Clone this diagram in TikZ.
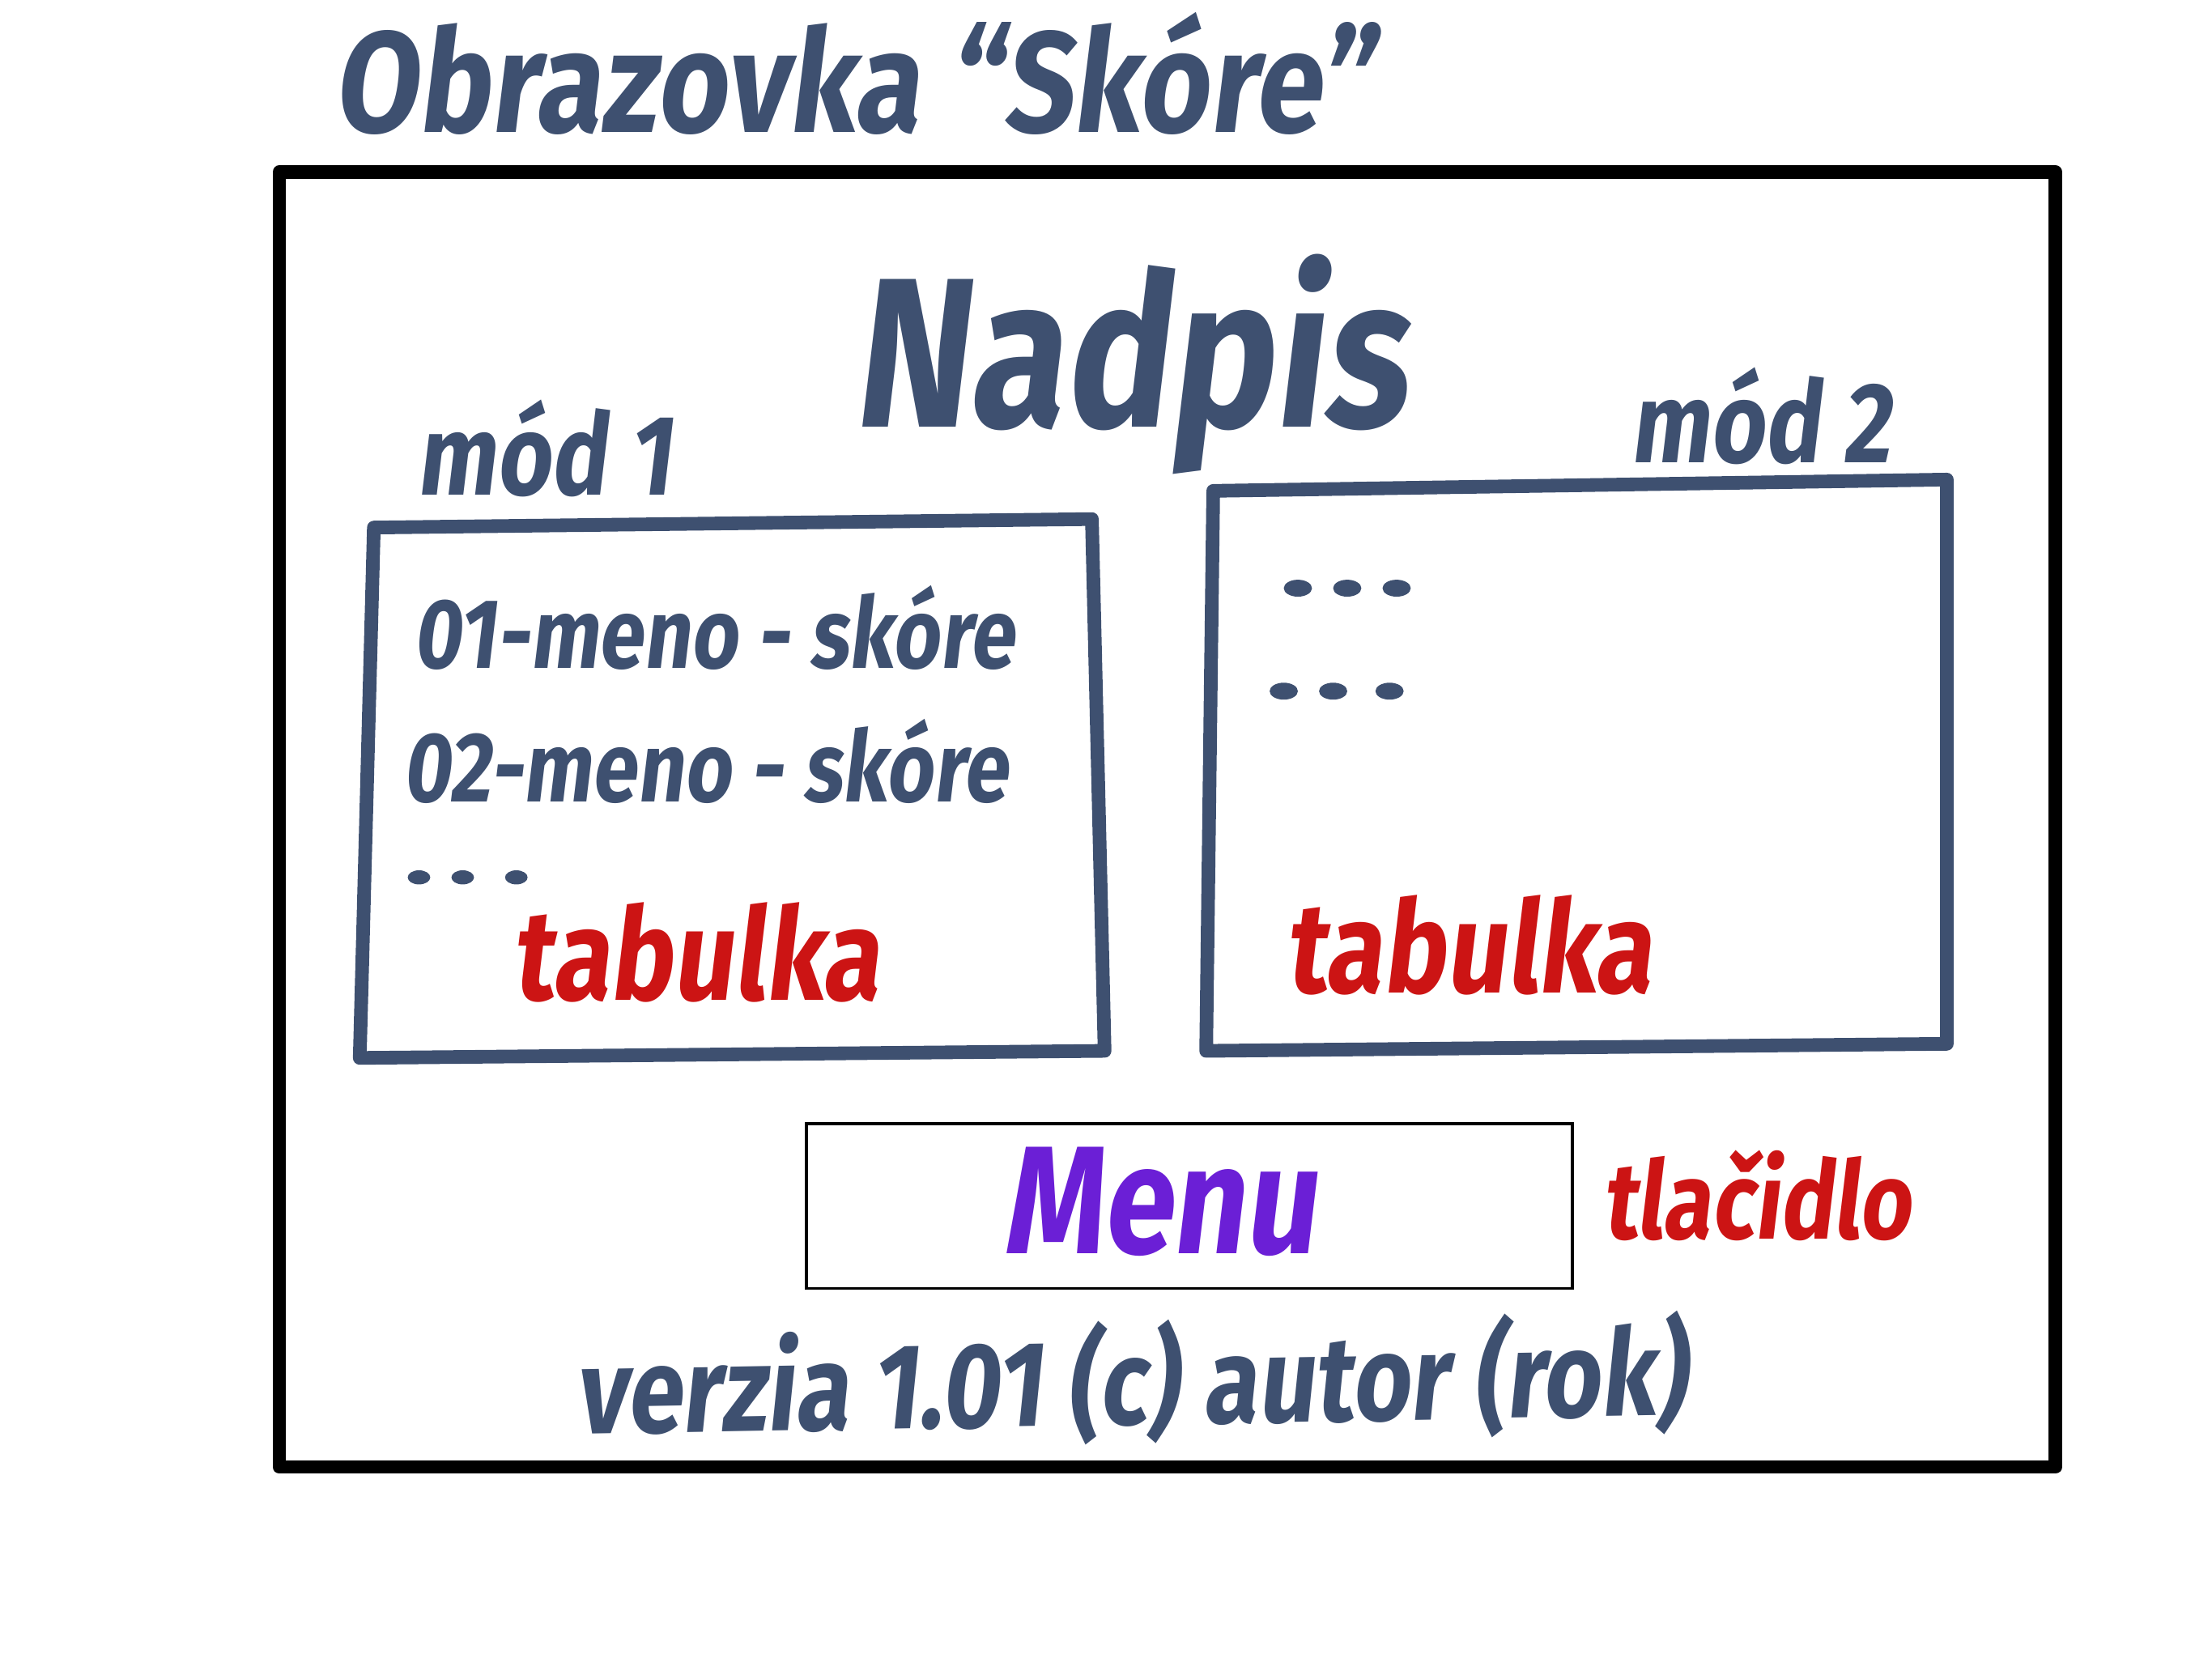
\documentclass[tikz,border=0pt]{standalone}
\usepackage{fontspec}
\setmainfont{Fira Sans}
\newfontfamily\hand[FakeSlant=0.12,FakeStretch=0.82]{Fira Sans}
\usetikzlibrary{positioning}
\definecolor{ink}{HTML}{3E5070}
\definecolor{redink}{HTML}{CC1414}
\definecolor{btnink}{HTML}{6B1FD6}
\newcommand{\sz}[1]{\fontsize{#1pt}{#1pt}\selectfont}

\begin{document}
\begin{tikzpicture}[
    x=0.02cm, y=-0.02cm,
    frame/.style={draw=black,line width=5.5pt,line join=round},
    panel/.style={draw=ink,line width=5.5pt,line join=round},
    button/.style={draw=black,line width=1.2pt,minimum width=10.86cm,minimum height=2.34cm,inner sep=0pt},
    lbl/.style={text=ink,inner sep=0pt,font=\hand\bfseries},
    redlbl/.style={text=redink,inner sep=0pt,font=\hand\bfseries},
    dot/.style={fill=ink,draw=none}
  ]
  \useasboundingbox (0,0) rectangle (1568,1175);

  % title and screen frame
  \node[lbl,font=\hand\bfseries\sz{58},xscale=1.03] (tTitle) at (605,52) {Obrazovka “Skóre”};
  \draw[frame] (198,122) rectangle (1457,1040);

  % heading
  \node[lbl,font=\hand\bfseries\sz{86}] (tHead) at (800,258) {Nadpis};

  % modes
  \node[lbl,font=\hand\bfseries\sz{46}] (tMode1) at (386,318) {mód 1};
  \node[lbl,font=\hand\bfseries\sz{46}] (tMode2) at (1248,295) {mód 2};

  % tables
  \draw[panel] (265,374) -- (774,368) -- (783,745) -- (255,750) -- cycle;
  \draw[panel] (860,348) -- (1380,340) -- (1380,740) -- (855,745) -- cycle;

  \node[lbl,font=\hand\bfseries\sz{40}] (tRow1) at (506,445) {01-meno - skóre};
  \node[lbl,font=\hand\bfseries\sz{40}] (tRow2) at (500,540) {02-meno - skóre};
  \foreach \x in {297,328,366}
    \fill[dot] (\x,622) ellipse (8 and 5);
  \foreach \x in {920,955,990}
    \fill[dot] (\x,417) ellipse (10 and 6);
  \foreach \x in {910,945,985}
    \fill[dot] (\x,490) ellipse (10 and 6);

  \node[redlbl,font=\hand\bfseries\sz{52}] (tTab1) at (493,675) {tabulka};
  \node[redlbl,font=\hand\bfseries\sz{52}] (tTab2) at (1041,670) {tabulka};

  % button
  \node[button] (bMenu) at (843,855) {};
  \node[inner sep=0pt,text=btnink,font=\hand\bfseries\sz{62}] (tMenu) at (822,852) {Menu};
  \node[redlbl,font=\hand\bfseries\sz{44},right=0.4cm of bMenu,yshift=0.15cm] (tButton) {tlačidlo};

  % footer
  \node[lbl,font=\hand\bfseries\sz{49},rotate=1] (tFoot) at (802,980) {verzia 1.01 (c) autor (rok)};

\end{tikzpicture}
\end{document}
